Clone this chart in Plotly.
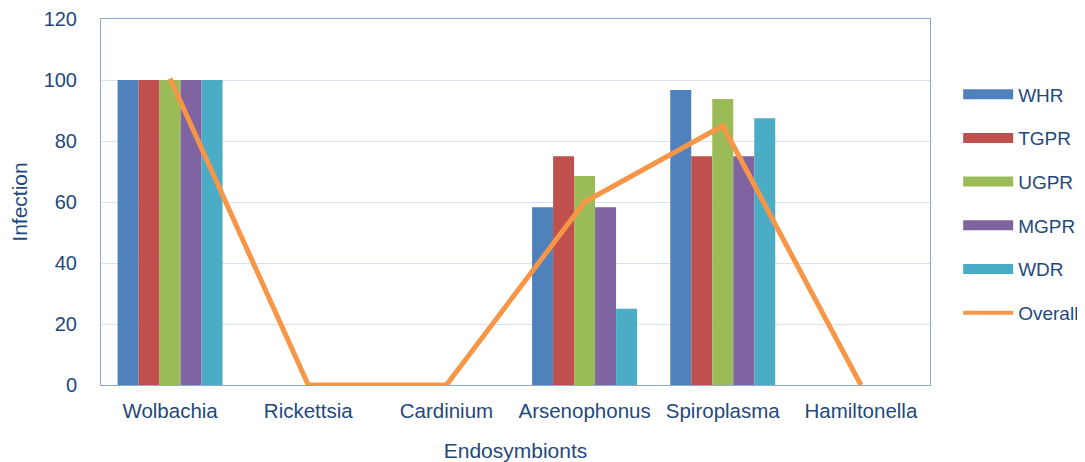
import plotly.graph_objects as go

categories = ["Wolbachia", "Rickettsia", "Cardinium", "Arsenophonus", "Spiroplasma", "Hamiltonella"]
whr = [100, 0, 0, 58.3, 96.7, 0]
tgpr = [100, 0, 0, 75, 75, 0]
ugpr = [100, 0, 0, 68.5, 93.8, 0]
mgpr = [100, 0, 0, 58.3, 75, 0]
wdr = [100, 0, 0, 25, 87.5, 0]
overall = [100.5, 0, 0, 60, 85, 0]

series = [("WHR", whr, "#4F81BD"), ("TGPR", tgpr, "#C0504D"), ("UGPR", ugpr, "#9BBB59"),
          ("MGPR", mgpr, "#8064A2"), ("WDR", wdr, "#4BACC6")]

txt = "#1F497D"
font = "Liberation Sans, Arial, sans-serif"

fig = go.Figure()
for name, vals, col in series:
    fig.add_trace(go.Bar(x=categories, y=vals, name=name, marker=dict(color=col, line=dict(width=0)),
                         showlegend=False))
fig.add_trace(go.Scatter(x=categories, y=overall, name="Overall", mode="lines",
                         line=dict(color="#F79646", width=5), showlegend=False))
# legend entries (wide rectangles like the reference)
for name, vals, col in series:
    fig.add_trace(go.Scatter(x=[None], y=[None], name=name, mode="lines",
                             line=dict(color=col, width=13), legendgroup=name))
fig.add_trace(go.Scatter(x=[None], y=[None], name="Overall", mode="lines",
                         line=dict(color="#F79646", width=4), legendgroup="Overall"))

fig.update_layout(
    width=1077, height=454,
    margin=dict(l=93, r=155, t=11, b=77, autoexpand=False),
    paper_bgcolor="white", plot_bgcolor="white",
    barmode="group", bargap=0.24, bargroupgap=0,
    font=dict(family=font, color=txt, size=20),
    showlegend=True,
    legend=dict(x=1.034, y=0.846, xanchor="left", yanchor="top", font=dict(size=19, color=txt),
                tracegroupgap=16, itemwidth=50, bgcolor="rgba(0,0,0,0)"),
    xaxis=dict(showline=True, linecolor="#8EA9CC", mirror=True, ticks="", tickfont=dict(size=20.5),
               automargin=False, ticklabelstandoff=7,
               title=dict(text="Endosymbionts", font=dict(size=21), standoff=24)),
    yaxis=dict(range=[0, 120], dtick=20, showline=True, linecolor="#8EA9CC", mirror=True,
               gridcolor="#D6E2F0", gridwidth=1, zeroline=False, tickfont=dict(size=20),
               ticklabelstandoff=19, automargin=False,
               title=dict(text="Infection", font=dict(size=21), standoff=15)),
)
fig.write_html("out.html")
